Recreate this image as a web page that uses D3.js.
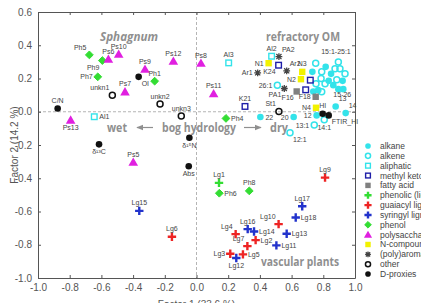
<!DOCTYPE html>
<html>
<head>
<meta charset="utf-8">
<script src="https://cdn.jsdelivr.net/npm/d3@7"></script>
<style>
  body { margin: 0; background: #fff; }
  svg { display: block; font-family: Arial, "Liberation Sans", sans-serif; }
</style>
</head>
<body>
<svg width="421" height="303"></svg>
<script>
var WIDTH = 421;
var HEIGHT = 303;

// data: [factor1, factor2, label]
var alkane = [
    [0.403, -0.032, "22"], [0.613, -0.032, "20"], [0.758, -0.022, "12"],
    [0.878, 0.032, "13"], [0.941, -0.008, "14"],
    [0.815, 0.27, ""], [0.731, 0.24, ""], [0.849, 0.228, ""], [0.834, 0.186, ""],
    [0.922, 0.186, ""], [0.863, 0.16, ""], [0.895, 0.136, ""], [0.926, 0.136, ""],
    [0.737, 0.122, ""], [0.768, 0.13, ""]
];
var alkene = [
    [0.51, 0.16, "26:1"], [0.743, -0.08, "13:1"], [0.59, -0.126, "12:1"], [0.806, -0.048, "14:1"],
    [0.752, 0.292, ""], [0.895, 0.30, ""], [0.79, 0.24, ""], [0.874, 0.258, ""],
    [0.905, 0.258, ""], [0.937, 0.228, ""], [0.786, 0.2, ""], [0.885, 0.192, ""],
    [0.754, 0.168, ""], [0.811, 0.168, ""], [0.79, 0.12, ""]
];
var aliphatic = [[-0.645, -0.03, "Al1"], [0.474, 0.334, "Al2"], [0.203, 0.294, "Al3"]];
var methylKetone = [[0.306, 0.032, "K21"], [0.518, 0.28, "K24"], [0.718, 0.19, ""], [0.689, 0.132, ""]];
var fattyAcid = [[0.632, 0.122, "F16"], [0.752, 0.09, "F18"]];
var phenolicLignin = [[0.142, -0.428, "Lg1"]];
var guaiacyl = [
    [-0.155, -0.752, "Lg6"], [0.811, -0.396, "Lg9"], [0.518, -0.676, "Lg10"], [0.247, -0.736, "Lg4"],
    [0.373, -0.772, "Lg2"], [0.321, -0.808, "Lg7"], [0.213, -0.854, "Lg3"], [0.293, -0.858, "Lg5"]
];
var syringyl = [
    [-0.361, -0.596, "Lg15"], [0.667, -0.568, "Lg17"], [0.626, -0.636, "Lg18"], [0.323, -0.706, "Lg16"],
    [0.363, -0.72, "Lg14"], [0.569, -0.734, "Lg13"], [0.504, -0.804, "Lg11"], [0.251, -0.88, "Lg12"]
];
var phenol = [
    [-0.676, 0.342, "Ph5"], [-0.594, 0.308, "Ph9"], [-0.623, 0.21, "Ph7"], [-0.264, 0.184, "Ph1"],
    [0.186, -0.04, "Ph4"], [0.144, -0.49, "Ph6"], [0.333, -0.476, "Ph8"]
];
var polysaccharide = [
    [-0.556, 0.316, "Ps6"], [-0.491, 0.346, "Ps10"], [-0.146, 0.304, "Ps12"], [-0.325, 0.256, "Ps9"],
    [-0.451, 0.12, "Ps7"], [-0.794, -0.05, "Ps13"], [0.028, 0.292, "Ps8"], [0.108, 0.108, "Ps11"],
    [-0.399, -0.304, "Ps5"]
];
var nCompound = [[0.455, 0.292, "N1"], [0.659, 0.196, "N2"], [0.667, 0.24, "N3"], [0.754, 0.024, "N4"]];
var aromatic = [[0.386, 0.234, "Ar1"], [0.569, 0.246, "Ar2"], [0.554, 0.14, "PA1"], [0.52, 0.332, "PA2"]];
var other = [[-0.531, 0.1, "unkn1"], [-0.23, 0.046, "unkn2"], [-0.096, -0.026, "unkn3"], [0.52, 0.002, "St1"]];
var dProxies = [
    [-0.876, 0.02, "C/N"], [-0.365, 0.21, "OI"], [-0.615, -0.196, "δ¹³C"], [-0.045, -0.156, "δ¹⁵N"],
    [-0.049, -0.328, "Abs"], [0.796, -0.012, "HI"], [0.834, -0.022, "FTIR_HI"]
];

var groupLabels = [[0.88, 0.35, "15:1-25:1"], [0.92, 0.088, "15-26"]];

var xTicks = [-1.0, -0.8, -0.6, -0.4, -0.2, 0.0, 0.2, 0.4, 0.6, 0.8, 1.0];
var yTicks = [-1.0, -0.8, -0.6, -0.4, -0.2, 0.0, 0.2, 0.4, 0.6];

// where each point label sits relative to its marker
var labelSide = {
    "Ph5": "tl", "Ps6": "t", "Ph9": "bl", "Ps10": "t", "Ph7": "l", "Ps12": "t", "Ps9": "t", "Ph1": "t",
    "OI": "br", "Ps7": "t", "unkn1": "tl", "unkn2": "t", "unkn3": "t", "C/N": "t", "Ps13": "b",
    "Al1": "r", "δ¹³C": "b", "δ¹⁵N": "b", "Abs": "b", "Ps5": "t", "Lg15": "t", "Lg6": "t", "Ps8": "t",
    "Al3": "t", "Ps11": "t", "K21": "t", "Ph4": "r", "22": "r", "St1": "tl", "20": "l", "12": "l",
    "13:1": "l", "12:1": "br", "14:1": "b", "HI": "t", "FTIR_HI": "br", "N4": "l", "13": "tr", "14": "tr",
    "26:1": "l", "PA1": "bl", "F16": "bl", "F18": "l", "N3": "t", "N2": "l", "Ar2": "tr", "Ar1": "l",
    "N1": "l", "K24": "bl", "Al2": "t", "PA2": "tr", "Lg1": "t", "Ph6": "r", "Ph8": "t", "Lg9": "t",
    "Lg17": "t", "Lg18": "r", "Lg10": "tl", "Lg16": "t", "Lg14": "r", "Lg4": "tl", "Lg13": "r",
    "Lg2": "r", "Lg7": "tl", "Lg11": "r", "Lg3": "l", "Lg5": "r", "Lg12": "b"
};

var series = [
    {name: "alkane", data: alkane, shape: "circle", fill: "#33e3ea", stroke: "none"},
    {name: "alkene", data: alkene, shape: "circle", fill: "none", stroke: "#33e3ea"},
    {name: "aliphatic", data: aliphatic, shape: "square", fill: "none", stroke: "#33e3ea"},
    {name: "methyl ketone", data: methylKetone, shape: "square", fill: "none", stroke: "#1f1fa8"},
    {name: "fatty acid", data: fattyAcid, shape: "square", fill: "#808080", stroke: "none"},
    {name: "phenolic (lignin)", data: phenolicLignin, shape: "cross", fill: "none", stroke: "#33dd33"},
    {name: "guaiacyl lignin", data: guaiacyl, shape: "cross", fill: "none", stroke: "#ee2424"},
    {name: "syringyl lignin", data: syringyl, shape: "cross", fill: "none", stroke: "#2233cc"},
    {name: "phenol", data: phenol, shape: "diamond", fill: "#33dd33", stroke: "none"},
    {name: "polysaccharide", data: polysaccharide, shape: "triangle", fill: "#e020e0", stroke: "none"},
    {name: "N-compound", data: nCompound, shape: "square", fill: "#f2f200", stroke: "none"},
    {name: "(poly)aromatic", data: aromatic, shape: "star", fill: "none", stroke: "#444"},
    {name: "other", data: other, shape: "circle", fill: "none", stroke: "#111"},
    {name: "D-proxies", data: dProxies, shape: "circle", fill: "#111", stroke: "none"}
];

var svg = d3.select("svg");
svg.append("rect").attr("width", WIDTH).attr("height", HEIGHT).attr("fill", "#fff");

var x = d3.scaleLinear().domain([-1, 1]).range([38, 355]);
var y = d3.scaleLinear().domain([-1, 0.6]).range([278, 12]);

function fmt(d) { return d.toFixed(1); }

// zero reference lines
svg.append("line")
    .attr("x1", x(0)).attr("x2", x(0)).attr("y1", y(0.6)).attr("y2", y(-1))
    .attr("stroke", "#b5b5b5").attr("stroke-dasharray", "3,2");
svg.append("line")
    .attr("x1", x(-1)).attr("x2", x(1)).attr("y1", y(0)).attr("y2", y(0))
    .attr("stroke", "#b5b5b5").attr("stroke-dasharray", "3,2");

// axes (ticks point inward on all four sides)
function styleAxis(g) {
    g.selectAll("path, line").attr("stroke", "#555");
    g.selectAll("text").attr("fill", "#555").style("font-size", "10px").style("font-family", "Arial, sans-serif");
}
svg.append("g").attr("transform", "translate(0," + y(-1) + ")")
    .call(d3.axisBottom(x).tickValues(xTicks).tickFormat(fmt).tickSize(-3).tickSizeOuter(0).tickPadding(6))
    .call(styleAxis);
svg.append("g").attr("transform", "translate(" + x(-1) + ",0)")
    .call(d3.axisLeft(y).tickValues(yTicks).tickFormat(fmt).tickSize(-3).tickSizeOuter(0).tickPadding(6))
    .call(styleAxis);
svg.append("g").attr("transform", "translate(0," + y(0.6) + ")")
    .call(d3.axisTop(x).tickValues(xTicks).tickFormat("").tickSize(-3).tickSizeOuter(0))
    .call(styleAxis);
svg.append("g").attr("transform", "translate(" + x(1) + ",0)")
    .call(d3.axisRight(y).tickValues(yTicks).tickFormat("").tickSize(-3).tickSizeOuter(0))
    .call(styleAxis);

svg.append("text")
    .attr("transform", "translate(14," + ((y(0.6) + y(-1)) / 2) + ") rotate(-90)")
    .attr("text-anchor", "middle").attr("dy", "0.35em")
    .attr("fill", "#555").style("font-size", "10px")
    .text("Factor 2 (14.2 %)");
svg.append("text")
    .attr("x", (x(-1) + x(1)) / 2).attr("y", 308)
    .attr("text-anchor", "middle")
    .attr("fill", "#555").style("font-size", "10px")
    .text("Factor 1 (33.6 %)");

// region annotations, stretched to the widths seen in the picture
var annoFont = "'Open Sans', 'DejaVu Sans', sans-serif";
function anno(tx, ty, str, len, italic) {
    return svg.append("text")
        .attr("x", tx).attr("y", ty)
        .attr("textLength", len).attr("lengthAdjust", "spacingAndGlyphs")
        .attr("fill", "#8f8f8f")
        .style("font-family", annoFont)
        .style("font-size", "13px")
        .style("font-weight", "bold")
        .style("font-style", italic ? "italic" : "normal")
        .text(str);
}
anno(100, 41, "Sphagnum", 58, true);
anno(266, 41, "refractory OM", 74);
anno(261, 266, "vascular plants", 78);
anno(107, 132, "wet", 20);
anno(162, 132, "bog hydrology", 74);
anno(270, 132, "dry", 18);

svg.append("defs").append("marker")
    .attr("id", "head").attr("viewBox", "0 0 10 10").attr("refX", 9).attr("refY", 5)
    .attr("markerWidth", 6).attr("markerHeight", 6).attr("orient", "auto-start-reverse")
    .append("path").attr("d", "M0,1L10,5L0,9z").attr("fill", "#8f8f8f");
svg.append("line").attr("x1", 153).attr("x2", 137).attr("y1", 127.5).attr("y2", 127.5)
    .attr("stroke", "#8f8f8f").attr("stroke-width", 1.2).attr("marker-end", "url(#head)");
svg.append("line").attr("x1", 244).attr("x2", 261).attr("y1", 127.5).attr("y2", 127.5)
    .attr("stroke", "#8f8f8f").attr("stroke-width", 1.2).attr("marker-end", "url(#head)");

// marker shapes
function drawMarker(g, s, scale) {
    var k = scale || 1;
    if (s.shape === "circle") {
        g.append("circle").attr("r", (s.fill === "none" ? 3 : 3.3) * k)
            .attr("fill", s.fill).attr("stroke", s.stroke).attr("stroke-width", 1.5);
    } else if (s.shape === "square") {
        var h = (s.fill === "none" ? 2.8 : 3.2) * k;
        g.append("rect").attr("x", -h).attr("y", -h).attr("width", 2 * h).attr("height", 2 * h)
            .attr("fill", s.fill).attr("stroke", s.stroke).attr("stroke-width", 1.4);
    } else if (s.shape === "cross") {
        var c = 4.2 * k;
        g.append("path").attr("d", "M" + (-c) + ",0H" + c + "M0," + (-c) + "V" + c)
            .attr("stroke", s.stroke).attr("stroke-width", 2.4).attr("fill", "none");
    } else if (s.shape === "diamond") {
        var q = 3.9 * k;
        g.append("path").attr("d", "M0," + (-q) + "L" + q + ",0L0," + q + "L" + (-q) + ",0Z")
            .attr("fill", s.fill).attr("stroke", s.fill).attr("stroke-width", 1).attr("stroke-linejoin", "round");
    } else if (s.shape === "triangle") {
        g.append("path").attr("d", d3.symbol(d3.symbolTriangle, 40 * k * k)())
            .attr("transform", "translate(0,0.8)")
            .attr("fill", s.fill);
    } else if (s.shape === "star") {
        var r = 3.4 * k, d = r * 0.75;
        g.append("path")
            .attr("d", "M" + (-r) + ",0H" + r + "M0," + (-r) + "V" + r +
                "M" + (-d) + "," + (-d) + "L" + d + "," + d + "M" + (-d) + "," + d + "L" + d + "," + (-d))
            .attr("stroke", s.stroke).attr("stroke-width", 1.3).attr("fill", "none");
    }
}

var offsets = {
    t: [0, -5.5, "middle"], b: [0, 10, "middle"], l: [-5, 2.5, "end"], r: [5, 2.5, "start"],
    tl: [-3, -5, "end"], tr: [3, -5, "start"], bl: [-3, 9, "end"], br: [3, 9, "start"]
};

var plot = svg.append("g");
series.forEach(function(s) {
    var pts = plot.selectAll(null)
        .data(s.data)
        .enter()
        .append("g")
        .attr("transform", function(d) { return "translate(" + x(d[0]) + "," + y(d[1]) + ")"; });
    pts.each(function() { drawMarker(d3.select(this), s); });
});

// point labels
var labelled = [];
series.forEach(function(s) {
    s.data.forEach(function(d) { if (d[2]) labelled.push(d); });
});
svg.append("g").selectAll("text")
    .data(labelled)
    .enter()
    .append("text")
    .attr("x", function(d) { return x(d[0]) + offsets[labelSide[d[2]] || "t"][0]; })
    .attr("y", function(d) { return y(d[1]) + offsets[labelSide[d[2]] || "t"][1]; })
    .attr("text-anchor", function(d) { return offsets[labelSide[d[2]] || "t"][2]; })
    .attr("fill", "#444")
    .style("font-size", "7px")
    .text(function(d) { return d[2]; });

svg.append("g").selectAll("text")
    .data(groupLabels)
    .enter()
    .append("text")
    .attr("x", function(d) { return x(d[0]); })
    .attr("y", function(d) { return y(d[1]); })
    .attr("text-anchor", "middle")
    .attr("fill", "#444")
    .style("font-size", "7px")
    .text(function(d) { return d[2]; });

// legend
var legend = svg.append("g").attr("transform", "translate(368,146)");
var rows = legend.selectAll("g")
    .data(series)
    .enter()
    .append("g")
    .attr("transform", function(d, i) { return "translate(0," + (i * 9.85) + ")"; });
rows.each(function(s) { drawMarker(d3.select(this), s, 0.85); });
rows.append("text")
    .attr("x", 12).attr("dy", "0.35em")
    .attr("fill", "#444")
    .style("font-size", "8.5px")
    .text(function(d) { return d.name; });
</script>
</body>
</html>
